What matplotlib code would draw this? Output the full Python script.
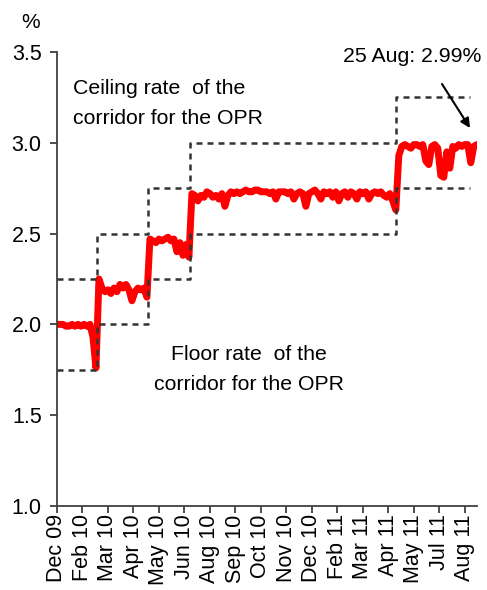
import numpy as np
import matplotlib
matplotlib.use("Agg")
import matplotlib.pyplot as plt

plt.rcParams['font.family'] = ['Liberation Sans', 'DejaVu Sans']

# interbank overnight rate, sampled at regular steps along the x axis (%)
rate = [2.00, 2.00, 2.00, 1.99, 1.99, 2.00, 1.99, 2.00, 1.99, 2.00,
        1.99, 2.00, 1.93, 1.76, 2.25, 2.20, 2.18, 2.19, 2.17, 2.20,
        2.18, 2.22, 2.20, 2.22, 2.19, 2.13, 2.18, 2.20, 2.19, 2.20,
        2.15, 2.47, 2.46, 2.45, 2.47, 2.46, 2.47, 2.48, 2.46, 2.47,
        2.40, 2.45, 2.38, 2.44, 2.37, 2.72, 2.71, 2.68, 2.71, 2.70,
        2.73, 2.72, 2.70, 2.71, 2.69, 2.72, 2.65, 2.71, 2.73, 2.72,
        2.73, 2.72, 2.73, 2.74, 2.73, 2.73, 2.74, 2.74, 2.73, 2.73,
        2.73, 2.72, 2.73, 2.69, 2.73, 2.73, 2.73, 2.72, 2.73, 2.69,
        2.72, 2.73, 2.72, 2.65, 2.72, 2.73, 2.74, 2.72, 2.69, 2.73,
        2.72, 2.73, 2.70, 2.73, 2.68, 2.72, 2.73, 2.70, 2.73, 2.72,
        2.69, 2.73, 2.72, 2.73, 2.69, 2.72, 2.73, 2.72, 2.73, 2.71,
        2.70, 2.72, 2.68, 2.63, 2.93, 2.98, 2.99, 2.98, 2.97, 2.99,
        2.99, 2.98, 2.99, 2.90, 2.88, 2.98, 2.99, 2.97, 2.82, 2.81,
        2.95, 2.86, 2.98, 2.97, 2.99, 2.98, 2.99, 2.99, 2.89, 2.98,
        2.99]

# OPR corridor: change points (in sample units) and floor / ceiling levels
corr_x = [0, 13.3, 30.3, 44.3, 113.0, 137.7]
floor_rate = [1.75, 2.00, 2.25, 2.50, 2.75]
ceil_rate = [2.25, 2.50, 2.75, 3.00, 3.25]

tick_labels = ["Dec 09", "Feb 10", "Mar 10", "Apr 10", "May 10", "Jun 10",
               "Aug 10", "Sep 10", "Oct 10", "Nov 10", "Dec 10", "Feb 11",
               "Mar 11", "Apr 11", "May 11", "Jul 11", "Aug 11"]

x = np.arange(len(rate))

fig = plt.figure(figsize=(4.87, 5.90), dpi=100)
ax = fig.add_axes([0.117, 0.1424, 0.862, 0.7695])

ax.plot(x, rate, color='#ff0000', lw=5, solid_joinstyle='round',
        solid_capstyle='round', zorder=2)

fx = corr_x
fl = floor_rate + [floor_rate[-1]]
cl = ceil_rate + [ceil_rate[-1]]
ax.step(fx, fl, where='post', color='#333333', lw=1.8, ls=(0, (2.4, 2.0)), zorder=3)
ax.step(fx, cl, where='post', color='#333333', lw=1.8, ls=(0, (2.4, 2.0)), zorder=3)

ax.set_xlim(0, len(rate) - 1)
ax.set_ylim(1.0, 3.5)
ax.set_yticks([1.0, 1.5, 2.0, 2.5, 3.0, 3.5])
ax.set_yticklabels(["1.0", "1.5", "2.0", "2.5", "3.0", "3.5"])
ax.set_xticks(np.arange(len(tick_labels)) * 8.5)
ax.set_xticklabels(tick_labels, rotation=90, va='top', ha='center')

for s in ['top', 'right']:
    ax.spines[s].set_visible(False)
for s in ['left', 'bottom']:
    ax.spines[s].set_color('#404040')
    ax.spines[s].set_linewidth(1.3)
ax.tick_params(axis='both', colors='#404040', length=5, width=1.3,
               labelsize=15.5, labelcolor='black')
ax.tick_params(axis='y', pad=6)
ax.tick_params(axis='x', pad=1)

fig.text(31/487, 1 - 23/590, "%", fontsize=15, ha='center', va='center')
fig.text(73/487, 1 - 89/590, "Ceiling rate  of the", fontsize=15.3, ha='left', va='center')
fig.text(73/487, 1 - 118/590, "corridor for the OPR", fontsize=15.3, ha='left', va='center')
fig.text(249/487, 1 - 354/590, "Floor rate  of the", fontsize=15.3, ha='center', va='center')
fig.text(249/487, 1 - 384/590, "corridor for the OPR", fontsize=15.3, ha='center', va='center')
fig.text(412/487, 1 - 57/590, "25 Aug: 2.99%", fontsize=15.3, ha='center', va='center')

ax.annotate("", xy=(470/487, 1 - 128/590), xycoords='figure fraction',
            xytext=(442/487, 1 - 84/590), textcoords='figure fraction',
            arrowprops=dict(arrowstyle='-|>', color='black', lw=1.5,
                            mutation_scale=14, shrinkA=0, shrinkB=0))

fig.savefig("out.png", dpi=100)
